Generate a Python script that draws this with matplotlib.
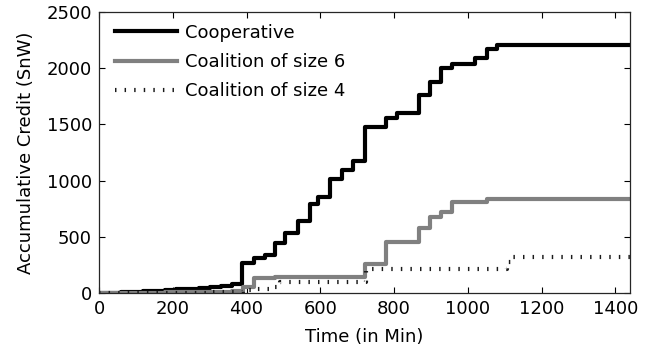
import matplotlib
matplotlib.use("Agg")
import matplotlib.pyplot as plt

# Accumulated credit over time (step-wise, value holds until next time point)
coop_t = [0, 30, 60, 90, 120, 150, 180, 210, 240, 270, 300, 330, 360, 387, 419, 450,
          477, 505, 541, 572, 595, 627, 658, 690, 722, 778, 808, 869, 898, 928, 957,
          1020, 1052, 1079, 1440]
coop_v = [0, 4, 8, 12, 17, 22, 28, 34, 40, 47, 54, 62, 76, 264, 315, 335,
          442, 531, 640, 792, 851, 1011, 1094, 1174, 1474, 1554, 1599, 1762, 1880, 1999, 2037,
          2088, 2168, 2206, 2206]

size6_t = [0, 60, 120, 180, 240, 300, 360, 391, 419, 477, 722, 778, 869, 898, 928, 957, 1052, 1440]
size6_v = [0, 2, 4, 6, 8, 11, 14, 55, 131, 145, 255, 451, 575, 673, 724, 812, 838, 838]

size4_t = [0, 100, 200, 300, 390, 420, 475, 492, 725, 1106, 1122, 1440]
size4_v = [0, 2, 4, 6, 25, 40, 55, 100, 211, 279, 323, 323]

labels = ["Cooperative", "Coalition of size 6", "Coalition of size 4"]
x_ticks = [0, 200, 400, 600, 800, 1000, 1200, 1400]
y_ticks = [0, 500, 1000, 1500, 2000, 2500]

plt.rcParams["font.family"] = ["DejaVu Sans"]
plt.rcParams["font.size"] = 13

fig = plt.figure(figsize=(6.52, 3.54), dpi=100)
ax = fig.add_axes([99 / 652, 1 - 293 / 354, 531 / 652, 281 / 354])

ax.step(coop_t, coop_v, where="post", color="black", lw=3, label=labels[0])
ax.step(size6_t, size6_v, where="post", color="0.5", lw=3, label=labels[1])
ax.step(size4_t, size4_v, where="post", color="0.1", lw=3,
        linestyle=(0, (0.35, 1.95)), label=labels[2])

ax.set_xlim(0, 1440)
ax.set_ylim(0, 2500)
ax.set_xticks(x_ticks)
ax.set_yticks(y_ticks)
ax.tick_params(direction="in", length=4, width=0.8, top=True, right=True, pad=5)
for s in ax.spines.values():
    s.set_linewidth(0.9)
    s.set_color("0.15")

ax.set_xlabel("Time (in Min)", labelpad=7)
ax.set_ylabel("Accumulative Credit (SnW)", labelpad=8)

ax.legend(loc="upper left", bbox_to_anchor=(0.0, 1.016), frameon=False,
          handlelength=3.4, handletextpad=0.45, labelspacing=0.62,
          borderaxespad=0.6, borderpad=0.3)

fig.savefig("out.png", dpi=100)
